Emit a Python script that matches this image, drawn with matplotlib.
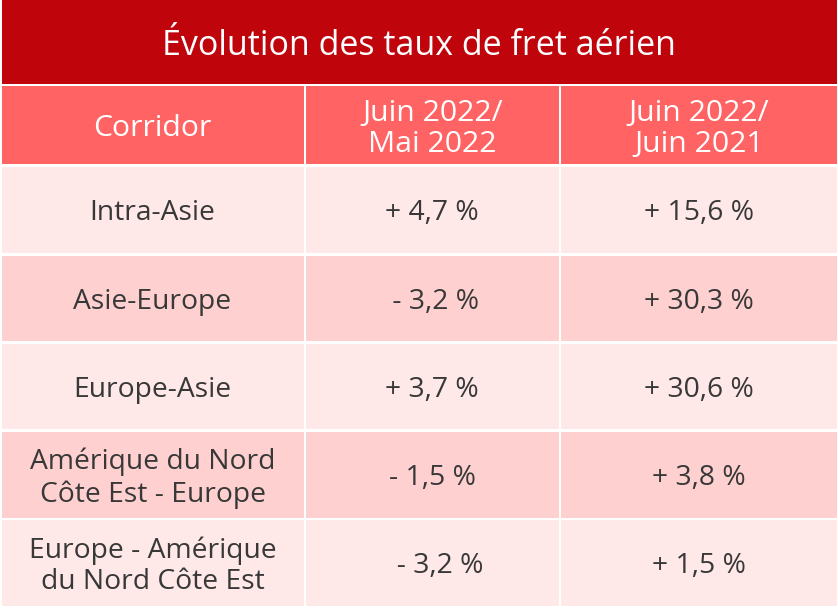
import matplotlib.pyplot as plt
from matplotlib.patches import Rectangle

plt.rcParams['font.family'] = ['Open Sans', 'DejaVu Sans']

title = 'Évolution des taux de fret aérien'
headers = ['Corridor', 'Juin 2022/\nMai 2022', 'Juin 2022/\nJuin 2021']
corridors = ['Intra-Asie', 'Asie-Europe', 'Europe-Asie',
             'Amérique du Nord\nCôte Est - Europe',
             'Europe - Amérique\ndu Nord Côte Est']
# leading spaces as in the source cells
mai_2022 = ['+ 4,7 %', ' - 3,2 %', '+ 3,7 %', '- 1,5 %', '  - 3,2 %']
juin_2021 = ['+ 15,6 %', '+ 30,3 %', '+ 30,6 %', '+ 3,8 %', '+ 1,5 %']

W, H = 838, 608
fig = plt.figure(figsize=(W / 100, H / 100), dpi=100)
ax = fig.add_axes([0, 0, 1, 1])
ax.set_xlim(0, W)
ax.set_ylim(H, 0)
ax.axis('off')

col_edges = [(1.5, 303.5), (306, 558.5), (561, 837)]
title_box = (0, 83.5)
header_box = (86, 164)
row_boxes = [(166.5, 253), (255.5, 341), (343.5, 429), (432, 517.5), (520, 605.5)]

red = '#C0040C'
header_col = '#FF6363'
light = '#FFE8E8'
dark = '#FFD0D0'
txt = '#383838'


def box(x0, x1, y0, y1, color):
    ax.add_patch(Rectangle((x0, y0), x1 - x0, y1 - y0, color=color, lw=0))


box(1.5, 837, title_box[0], title_box[1], red)
ax.text(419, 46, title, color='white', fontsize=24.5, ha='center', va='center')

for (x0, x1), h in zip(col_edges, headers):
    box(x0, x1, header_box[0], header_box[1], header_col)
    ax.text((x0 + x1) / 2, (header_box[0] + header_box[1]) / 2 + 4, h,
            color='white', fontsize=21.7, ha='center', va='center',
            linespacing=1.1)

for i, (y0, y1) in enumerate(row_boxes):
    c = light if i % 2 == 0 else dark
    cells = [corridors[i], mai_2022[i], juin_2021[i]]
    for (x0, x1), s in zip(col_edges, cells):
        box(x0, x1, y0, y1, c)
        ax.text((x0 + x1) / 2, (y0 + y1) / 2 + 3.5, s, color=txt,
                fontsize=20.3, ha='center', va='center', linespacing=1.18)

fig.savefig('out.png', dpi=100, facecolor='white')
